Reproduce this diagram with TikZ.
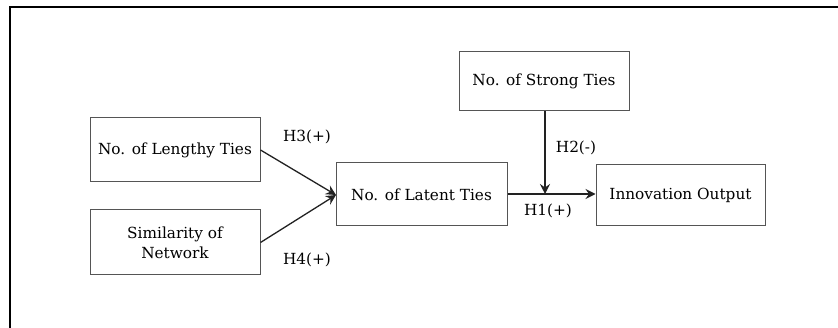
\documentclass[tikz,border=0pt]{standalone}
\usepackage{fontspec}
\setmainfont{DejaVu Serif}
\usetikzlibrary{arrows.meta}
\definecolor{boxgray}{HTML}{555555}
\definecolor{arrowgray}{HTML}{222222}
\begin{document}
\begin{tikzpicture}[x=1pt,y=-1pt,
  box/.style={draw=boxgray,line width=1pt,inner sep=0pt,align=center,
    font=\fontsize{15.3}{20}\selectfont},
  lbl/.style={inner sep=0pt,font=\fontsize{15.3}{20}\selectfont},
  conn/.style={draw=arrowgray,line width=1.3pt,-{Stealth[length=10pt,width=10pt,inset=3.5pt]}}]
\useasboundingbox (0,0) rectangle (838,328);
\fill[white] (0,0) rectangle (838,328);
\draw[line width=2.2pt] (10,330) -- (10,7) -- (840,7);
\node[box,minimum width=170pt,minimum height=64pt] (len) at (175,150) {No. of Lengthy Ties};
\node[box,minimum width=170pt,minimum height=65pt] (sim) at (175,242.5) {Similarity of\\Network};
\node[box,minimum width=171pt,minimum height=63pt] (lat) at (421.5,194.5) {No. of Latent Ties};
\node[box,minimum width=170pt,minimum height=59pt] (str) at (544,81.5) {No. of Strong Ties};
\node[box,minimum width=169pt,minimum height=61pt] (inn) at (680.5,195.5) {Innovation Output};
\coordinate (m) at (545,194);
\coordinate (lin) at (336,195);
\draw[conn] (len.east) -- (lin);
\draw[conn] (sim.east) -- (lin);
\draw[conn] (str.south -| m) -- (m);
\draw[conn] (lat.east |- m) -- (inn.west |- m);
\node[lbl] (h3) at (307,137) {H3(+)};
\node[lbl] (h4) at (307,260) {H4(+)};
\node[lbl] (h2) at (576,148) {H2(-)};
\node[lbl] (h1) at (548,211) {H1(+)};
\end{tikzpicture}
\end{document}
